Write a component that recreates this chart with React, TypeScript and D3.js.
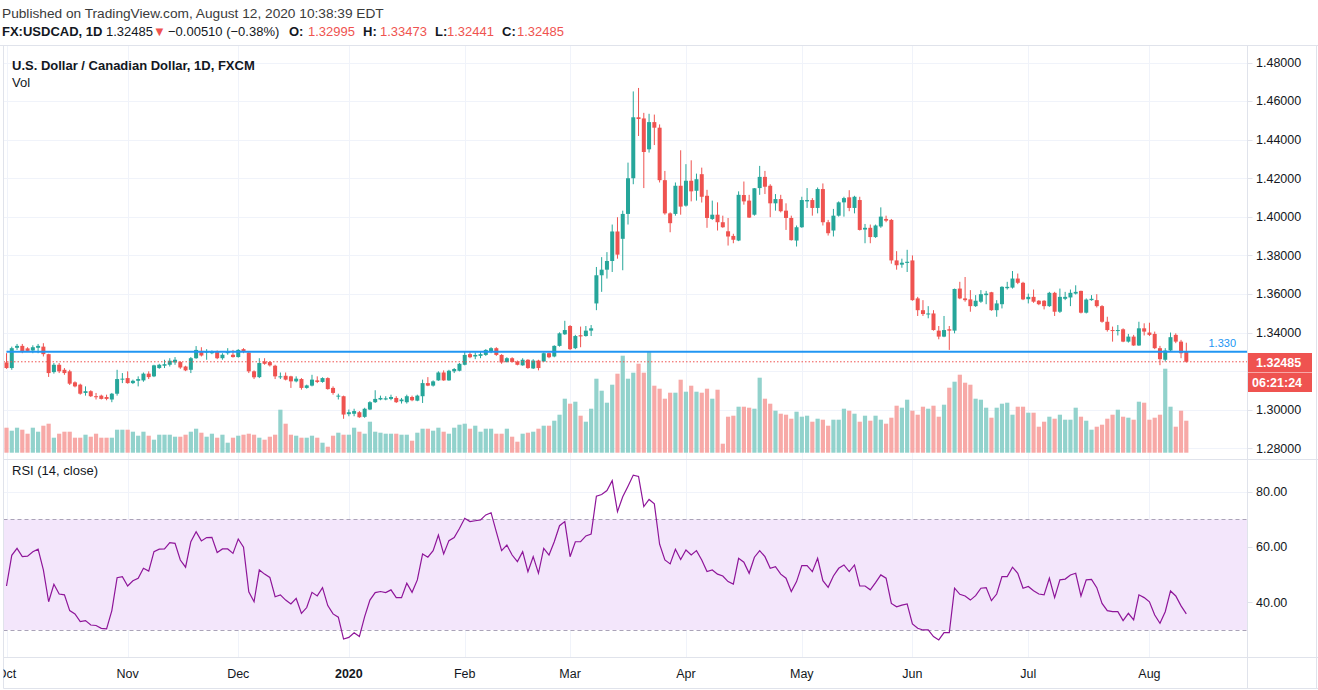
import React from 'react';
import * as d3 from 'd3';

// [open, high, low, close, volume]
type Bar = [number, number, number, number, number];

const oct2019: Bar[] = [
  [1.3245, 1.3293, 1.3212, 1.3216, 25], [1.3216, 1.3327, 1.3207, 1.3319, 22], [1.3321, 1.3341, 1.331, 1.3331, 25],
  [1.3331, 1.3341, 1.3293, 1.3302, 23], [1.3318, 1.3324, 1.33, 1.3305, 19], [1.3307, 1.3334, 1.3293, 1.3324, 25],
  [1.3321, 1.3341, 1.3293, 1.3331, 21], [1.3327, 1.3345, 1.3276, 1.3288, 27], [1.3288, 1.329, 1.317, 1.319, 29],
  [1.3195, 1.3242, 1.3187, 1.3233, 15], [1.3233, 1.3242, 1.319, 1.3199, 19], [1.3207, 1.3216, 1.3181, 1.319, 21],
  [1.3199, 1.3207, 1.3128, 1.3135, 21], [1.3142, 1.3147, 1.3116, 1.3121, 15], [1.313, 1.3135, 1.3078, 1.3083, 15],
  [1.3087, 1.3121, 1.3073, 1.3096, 18], [1.3096, 1.3101, 1.3066, 1.307, 16], [1.307, 1.3087, 1.3053, 1.3066, 19],
  [1.3073, 1.3078, 1.3053, 1.3056, 15], [1.3066, 1.3078, 1.3049, 1.3056, 15], [1.3053, 1.3087, 1.3039, 1.3083, 15],
  [1.3083, 1.3207, 1.3073, 1.3159, 23], [1.3156, 1.319, 1.3138, 1.3161, 23],
];
const nov2019: Bar[] = [
  [1.3164, 1.3199, 1.3135, 1.3138, 23], [1.3138, 1.3156, 1.3133, 1.315, 21], [1.315, 1.3173, 1.3121, 1.3159, 17],
  [1.3152, 1.3193, 1.3145, 1.3187, 21], [1.3187, 1.3199, 1.3159, 1.3169, 17], [1.3173, 1.3233, 1.3169, 1.323, 13],
  [1.3216, 1.3238, 1.3212, 1.3233, 18], [1.3228, 1.3259, 1.3216, 1.3236, 18], [1.3233, 1.3267, 1.3224, 1.3254, 18],
  [1.3245, 1.3273, 1.3233, 1.3259, 16], [1.3247, 1.3252, 1.3212, 1.3219, 16], [1.3224, 1.3228, 1.32, 1.3204, 18],
  [1.3207, 1.3273, 1.319, 1.3267, 21], [1.3267, 1.333, 1.3264, 1.331, 24], [1.3305, 1.3324, 1.3276, 1.3281, 20],
  [1.3296, 1.3314, 1.3259, 1.3302, 16], [1.3293, 1.3307, 1.3288, 1.3302, 19], [1.3302, 1.3307, 1.3262, 1.3267, 15],
  [1.3267, 1.3293, 1.3259, 1.3285, 18], [1.3293, 1.3319, 1.3285, 1.3302, 10], [1.3285, 1.331, 1.327, 1.3273, 15],
];
const dec2019: Bar[] = [
  [1.3273, 1.3314, 1.327, 1.331, 17], [1.3314, 1.3319, 1.3293, 1.3302, 18], [1.3296, 1.33, 1.319, 1.3199, 19],
  [1.3199, 1.3204, 1.3159, 1.3168, 18], [1.3169, 1.3267, 1.3164, 1.3242, 15], [1.325, 1.3267, 1.3233, 1.3238, 13],
  [1.3247, 1.3252, 1.3224, 1.323, 16], [1.3228, 1.3233, 1.3159, 1.3173, 18], [1.3169, 1.3193, 1.3159, 1.3173, 43],
  [1.3176, 1.3193, 1.3152, 1.3156, 29], [1.3173, 1.3176, 1.3113, 1.3147, 18], [1.3147, 1.3173, 1.3142, 1.3161, 17],
  [1.3159, 1.3164, 1.3104, 1.3113, 15], [1.3113, 1.313, 1.3109, 1.3126, 15], [1.3125, 1.3181, 1.3121, 1.3156, 17],
  [1.3152, 1.3173, 1.3138, 1.3144, 15], [1.3144, 1.3168, 1.314, 1.3164, 10], [1.3164, 1.3168, 1.3104, 1.3107, 6],
  [1.3113, 1.3121, 1.3078, 1.3087, 17], [1.307, 1.3083, 1.3053, 1.3073, 20], [1.307, 1.3073, 1.2953, 1.2975, 18],
];
const jan2020: Bar[] = [
  [1.2977, 1.3001, 1.2966, 1.2987, 18], [1.2979, 1.3005, 1.2966, 1.2993, 25], [1.2987, 1.2993, 1.2958, 1.2961, 21],
  [1.2963, 1.301, 1.2958, 1.3005, 19], [1.3001, 1.3044, 1.2998, 1.3039, 31], [1.3039, 1.3101, 1.3035, 1.3056, 21],
  [1.3053, 1.3073, 1.3049, 1.3061, 20], [1.3053, 1.307, 1.3049, 1.3059, 19], [1.3056, 1.3078, 1.3049, 1.3066, 19],
  [1.3061, 1.307, 1.3035, 1.3039, 19], [1.3044, 1.3061, 1.3032, 1.3053, 18], [1.3039, 1.3078, 1.3032, 1.307, 18],
  [1.3066, 1.3073, 1.3044, 1.3049, 12], [1.3047, 1.3078, 1.3044, 1.3073, 20], [1.307, 1.3156, 1.3035, 1.3138, 24],
  [1.3138, 1.3169, 1.3122, 1.3125, 24], [1.3125, 1.3152, 1.312, 1.3147, 22], [1.3152, 1.3199, 1.315, 1.3193, 25],
  [1.3193, 1.3204, 1.315, 1.3152, 21], [1.3152, 1.3207, 1.315, 1.3202, 19], [1.3199, 1.3216, 1.319, 1.3211, 25],
  [1.3202, 1.3242, 1.3199, 1.3238, 28],
];
const feb2020: Bar[] = [
  [1.3233, 1.3302, 1.323, 1.3284, 29], [1.3288, 1.3302, 1.3267, 1.3272, 24], [1.3276, 1.3297, 1.3262, 1.3284, 27],
  [1.3279, 1.3302, 1.3267, 1.3288, 21], [1.3284, 1.3314, 1.3279, 1.331, 24], [1.3302, 1.3324, 1.3293, 1.3319, 24],
  [1.3319, 1.3324, 1.3279, 1.3284, 19], [1.3284, 1.3288, 1.3238, 1.3245, 19], [1.3247, 1.3272, 1.3245, 1.3267, 24],
  [1.3267, 1.3272, 1.3245, 1.3247, 16], [1.325, 1.3255, 1.323, 1.3233, 11], [1.323, 1.3267, 1.3228, 1.3259, 19],
  [1.3259, 1.3262, 1.3212, 1.3216, 20], [1.3214, 1.3262, 1.3211, 1.3255, 21], [1.3255, 1.3259, 1.3204, 1.3216, 24],
  [1.325, 1.3297, 1.3247, 1.3293, 27], [1.3293, 1.3297, 1.3267, 1.3272, 27], [1.3276, 1.3334, 1.3272, 1.3331, 32],
  [1.3331, 1.3401, 1.3327, 1.3396, 38], [1.3391, 1.3461, 1.3388, 1.3413, 54],
];
const mar2020: Bar[] = [
  [1.3434, 1.3439, 1.331, 1.3314, 49], [1.3319, 1.3388, 1.3314, 1.3382, 51], [1.3386, 1.3431, 1.3324, 1.338, 37],
  [1.3382, 1.3434, 1.3379, 1.341, 31], [1.341, 1.3439, 1.3382, 1.3422, 44], [1.3551, 1.374, 1.3516, 1.3697, 74],
  [1.3697, 1.3791, 1.3611, 1.3726, 62], [1.3726, 1.3817, 1.368, 1.3771, 50], [1.3771, 1.396, 1.3714, 1.3924, 68],
  [1.3924, 1.3998, 1.3783, 1.3804, 79], [1.3886, 1.4032, 1.3723, 1.4015, 97], [1.4015, 1.4281, 1.396, 1.42, 74],
  [1.42, 1.465, 1.4169, 1.4516, 80], [1.4516, 1.4668, 1.4419, 1.4507, 89], [1.451, 1.4539, 1.4149, 1.4336, 80],
  [1.435, 1.4534, 1.4333, 1.4491, 101], [1.4491, 1.453, 1.4372, 1.4462, 67], [1.4462, 1.4479, 1.4178, 1.419, 64],
  [1.419, 1.4238, 1.4011, 1.4018, 54], [1.4018, 1.4023, 1.392, 1.3967, 60], [1.4015, 1.4178, 1.4006, 1.4161, 60],
  [1.4161, 1.4345, 1.4011, 1.4053, 73],
];
const apr2020: Bar[] = [
  [1.4058, 1.4273, 1.4053, 1.4187, 61], [1.4187, 1.4293, 1.408, 1.4132, 67], [1.4135, 1.4224, 1.4084, 1.4195, 61],
  [1.4221, 1.4255, 1.4074, 1.4104, 60], [1.4109, 1.414, 1.3943, 1.3994, 64], [1.3989, 1.4084, 1.3984, 1.4011, 54],
  [1.4011, 1.4075, 1.3929, 1.3972, 63], [1.3972, 1.4006, 1.3943, 1.3946, 9], [1.3925, 1.3994, 1.3851, 1.3898, 36],
  [1.3901, 1.3912, 1.3863, 1.3881, 37], [1.3877, 1.4132, 1.3874, 1.4114, 46], [1.4113, 1.4183, 1.4063, 1.408, 46],
  [1.4084, 1.4114, 1.3994, 1.3996, 45], [1.4011, 1.4149, 1.4006, 1.4148, 44], [1.4149, 1.4264, 1.4114, 1.4207, 75],
  [1.4207, 1.4238, 1.4118, 1.4156, 54], [1.4161, 1.4169, 1.3998, 1.407, 49], [1.407, 1.4118, 1.4032, 1.4092, 42],
  [1.4092, 1.4114, 1.4023, 1.4029, 39], [1.4032, 1.407, 1.3932, 1.3994, 38], [1.3994, 1.4006, 1.3877, 1.3879, 34],
  [1.3877, 1.3955, 1.3846, 1.3946, 41],
];
const may2020: Bar[] = [
  [1.3946, 1.4104, 1.3943, 1.4087, 36], [1.408, 1.4149, 1.4046, 1.4087, 37], [1.4087, 1.4097, 1.4006, 1.4046, 31],
  [1.4046, 1.4152, 1.4018, 1.4144, 34], [1.4144, 1.4173, 1.3955, 1.3972, 33], [1.3972, 1.3984, 1.3903, 1.3915, 27],
  [1.3929, 1.4041, 1.3898, 1.4006, 33], [1.4006, 1.408, 1.4001, 1.4075, 33], [1.4075, 1.4104, 1.4001, 1.4097, 44],
  [1.4101, 1.4138, 1.4029, 1.4046, 42], [1.4046, 1.4109, 1.4018, 1.4104, 39], [1.4087, 1.4104, 1.3929, 1.3932, 31],
  [1.3934, 1.3963, 1.3863, 1.3943, 37], [1.3943, 1.396, 1.3863, 1.3895, 32], [1.3895, 1.396, 1.3891, 1.3955, 37],
  [1.395, 1.4049, 1.3943, 1.4001, 33], [1.3989, 1.4006, 1.3972, 1.398, 29], [1.3984, 1.3989, 1.3757, 1.3774, 35],
  [1.3774, 1.3822, 1.3726, 1.3749, 47], [1.3752, 1.3783, 1.3736, 1.3762, 45], [1.3761, 1.3829, 1.3714, 1.3767, 53],
];
const jun2020: Bar[] = [
  [1.3774, 1.38, 1.3565, 1.3568, 42], [1.3577, 1.3585, 1.3486, 1.3516, 38], [1.3516, 1.3568, 1.3486, 1.3496, 46],
  [1.3494, 1.3537, 1.3474, 1.3499, 44], [1.3499, 1.3516, 1.341, 1.3413, 47], [1.341, 1.3434, 1.3365, 1.3379, 36],
  [1.3379, 1.3486, 1.3376, 1.3413, 48], [1.3417, 1.3434, 1.331, 1.341, 65], [1.341, 1.3628, 1.3396, 1.3626, 71],
  [1.3628, 1.3663, 1.3573, 1.3577, 78], [1.3577, 1.3688, 1.356, 1.3568, 70], [1.3572, 1.362, 1.3508, 1.3537, 68],
  [1.3537, 1.3594, 1.3533, 1.3565, 54], [1.356, 1.362, 1.3554, 1.3599, 53], [1.3594, 1.3616, 1.3547, 1.3602, 45],
  [1.3609, 1.3611, 1.3513, 1.3516, 35], [1.3516, 1.3568, 1.3482, 1.3551, 45], [1.3547, 1.364, 1.3525, 1.3637, 49],
  [1.363, 1.3663, 1.3623, 1.3637, 50], [1.3633, 1.3719, 1.3628, 1.368, 38], [1.368, 1.3706, 1.3651, 1.3658, 46],
  [1.3658, 1.3663, 1.3568, 1.3572, 46],
];
const jul2020: Bar[] = [
  [1.3573, 1.3602, 1.3551, 1.3585, 40], [1.3585, 1.3623, 1.3554, 1.356, 40], [1.3565, 1.3568, 1.3542, 1.3547, 26],
  [1.3565, 1.3568, 1.352, 1.3537, 31], [1.3537, 1.3611, 1.3533, 1.3606, 36], [1.3606, 1.3611, 1.3486, 1.3508, 34],
  [1.3508, 1.3628, 1.3502, 1.3585, 38], [1.3575, 1.3611, 1.3568, 1.3585, 33], [1.3582, 1.3623, 1.3537, 1.3606, 33],
  [1.3602, 1.3645, 1.3597, 1.3611, 45], [1.3616, 1.3617, 1.3499, 1.3503, 36], [1.3503, 1.3577, 1.3499, 1.3571, 32],
  [1.3568, 1.3594, 1.3565, 1.3575, 23], [1.3568, 1.3599, 1.353, 1.3537, 26], [1.3537, 1.3542, 1.3451, 1.3456, 28],
  [1.3456, 1.3482, 1.3405, 1.3413, 34], [1.3413, 1.3431, 1.3353, 1.3408, 38], [1.3408, 1.3439, 1.3385, 1.3413, 43],
  [1.3417, 1.3422, 1.335, 1.3353, 36], [1.3353, 1.3393, 1.3348, 1.3379, 35], [1.3379, 1.3388, 1.3331, 1.3333, 33],
  [1.3333, 1.3456, 1.3331, 1.3422, 51], [1.3422, 1.3448, 1.3385, 1.3405, 50],
];
const aug2020: Bar[] = [
  [1.34, 1.3451, 1.3382, 1.3388, 33], [1.3393, 1.3405, 1.3314, 1.3319, 35], [1.3319, 1.3331, 1.3231, 1.3262, 38],
  [1.3259, 1.3319, 1.325, 1.3307, 84], [1.3307, 1.34, 1.3302, 1.3376, 46], [1.3388, 1.3396, 1.3345, 1.3353, 26],
  [1.3353, 1.3362, 1.3267, 1.3293, 42], [1.32995, 1.33473, 1.32441, 1.32485, 32],
];

const rsiOct2019 = [45.9, 57.0, 59.5, 56.5, 56.7, 58.3, 59.2, 51.7, 40.2, 46.5, 43.0, 42.7, 37.0, 35.8, 33.0, 33.4, 31.8, 31.6, 30.6, 30.4, 37.0, 48.9, 49.3];
const rsiNov2019 = [45.9, 47.8, 48.7, 52.3, 51.3, 58.3, 59.2, 59.3, 61.6, 61.3, 55.3, 52.7, 61.9, 65.5, 62.2, 63.4, 63.5, 58.0, 59.3, 59.3, 57.7];
const rsiDec2019 = [62.9, 59.9, 43.8, 40.2, 51.7, 50.2, 49.0, 42.0, 42.7, 40.8, 39.4, 41.4, 36.0, 38.1, 43.6, 42.3, 45.3, 38.8, 35.8, 34.6, 26.7];
const rsiJan2020 = [27.3, 29.0, 27.6, 34.8, 40.8, 43.5, 43.9, 43.5, 44.5, 41.7, 41.7, 46.9, 43.6, 48.1, 57.5, 56.3, 58.7, 64.3, 57.5, 62.3, 63.4, 66.7];
const rsiFeb2020 = [70.4, 69.2, 69.5, 69.8, 71.6, 72.4, 65.5, 58.7, 60.7, 57.1, 54.7, 58.3, 51.1, 56.5, 50.5, 59.5, 57.1, 61.9, 67.7, 69.2];
const rsiMar2020 = [56.5, 61.9, 61.9, 64.0, 64.7, 78.4, 79.0, 80.4, 84.0, 72.8, 78.2, 82.0, 86.0, 85.5, 74.6, 77.2, 75.6, 61.0, 55.3, 53.9, 59.2, 55.5];
const rsiApr2020 = [58.9, 57.1, 58.7, 55.3, 51.1, 51.7, 50.2, 49.5, 47.5, 46.6, 55.9, 54.5, 50.5, 56.3, 58.7, 56.5, 52.3, 52.9, 50.2, 48.7, 43.9, 47.5];
const rsiMay2020 = [53.3, 53.3, 51.1, 55.9, 47.8, 45.4, 49.5, 52.3, 53.5, 51.1, 53.5, 45.9, 45.9, 44.5, 47.1, 49.9, 48.7, 39.6, 38.4, 39.0, 39.4];
const rsiJun2020 = [32.2, 30.6, 30.0, 30.0, 27.6, 26.4, 29.0, 29.0, 45.1, 42.9, 42.3, 40.8, 42.4, 45.1, 45.3, 40.6, 43.0, 49.3, 49.3, 52.7, 50.5, 45.1];
const rsiJul2020 = [45.7, 44.2, 43.0, 42.7, 48.7, 41.7, 48.1, 48.4, 49.9, 50.5, 42.3, 48.1, 48.3, 45.3, 39.6, 37.0, 36.6, 36.6, 33.4, 36.0, 33.6, 42.7, 41.7];
const rsiAug2020 = [40.2, 35.4, 32.4, 36.6, 44.1, 42.3, 38.7, 35.8];

const monthLabels = ['Oct', 'Nov', 'Dec', '2020', 'Feb', 'Mar', 'Apr', 'May', 'Jun', 'Jul', 'Aug'];
const priceTicks = [1.28, 1.3, 1.32, 1.34, 1.36, 1.38, 1.4, 1.42, 1.44, 1.46, 1.48];
const rsiTicks = [40, 60, 80];
const rsiBand = [30, 70];
const firstDay = '2019-10-01';
const lastDay = '2020-08-12';
const closedDays = ['2019-12-25', '2020-01-01'];
const levelLine = 1.33;
const levelLabel = '1.330';
const lastClose = 1.32485;
const countdown = '06:21:24';

const UP = '#26a69a';
const DOWN = '#ef5350';
const UP_VOL = '#92d2cc';
const DOWN_VOL = '#f7a9a7';
const GRID = '#f0f3fa';
const BORDER = '#e0e3eb';
const TEXT = '#131722';
const FONT = "'Liberation Sans', Arial, sans-serif";

function tradingDays(): Date[] {
  const out: Date[] = [];
  const d = new Date(firstDay + 'T00:00:00Z');
  const end = new Date(lastDay + 'T00:00:00Z');
  while (d <= end) {
    const wd = d.getUTCDay();
    const iso = d.toISOString().slice(0, 10);
    if (wd !== 0 && wd !== 6 && !closedDays.includes(iso)) out.push(new Date(d.getTime()));
    d.setUTCDate(d.getUTCDate() + 1);
  }
  return out;
}

export default function App() {
  const bars: Bar[] = [
    ...oct2019, ...nov2019, ...dec2019, ...jan2020, ...feb2020, ...mar2020,
    ...apr2020, ...may2020, ...jun2020, ...jul2020, ...aug2020,
  ];
  const rsi: number[] = [
    ...rsiOct2019, ...rsiNov2019, ...rsiDec2019, ...rsiJan2020, ...rsiFeb2020, ...rsiMar2020,
    ...rsiApr2020, ...rsiMay2020, ...rsiJun2020, ...rsiJul2020, ...rsiAug2020,
  ];
  const days = tradingDays();
  const n = bars.length;

  const W = 1318;
  const H = 690;
  const left = 3.5;
  const axisX = 1247.5;
  const paneTop = 45.5;
  const sepY = 459.5;
  const rsiBottom = 657.5;
  const bottom = 688.5;

  const x = d3.scaleLinear().domain([0, n - 1]).range([6.5, 6.5 + (n - 1) * 5.267]);
  const y = d3.scaleLinear().domain([1.28, 1.48]).range([448.3, 62.5]);
  const vMax = d3.max(bars, (b) => b[4]) as number;
  const yv = d3.scaleLinear().domain([0, vMax]).range([452.7, 351.7]);
  const yr = d3.scaleLinear().domain([20, 80]).range([657.6, 491.7]);

  const monthStarts: number[] = [];
  days.forEach((d, i) => {
    if (i === 0 || d.getUTCMonth() !== days[i - 1].getUTCMonth()) monthStarts.push(i);
  });

  const rsiPath = d3
    .line<number>()
    .x((_, i) => x(i))
    .y((v) => yr(v))(rsi) as string;

  const fmtPrice = d3.format('.5f');
  const fmtRsi = d3.format('.2f');

  // price label boxes on the axis (last price + countdown)
  const boxTop = 353;
  const boxBottom = 392;
  const visiblePriceTicks = priceTicks.filter((p) => {
    const yy = y(p);
    return yy < boxTop - 7 || yy > boxBottom + 7;
  });

  const header2: { t: string; x: number; bold?: boolean; color?: string }[] = [
    { t: 'FX:USDCAD, 1D', x: 2, bold: true },
    { t: '1.32485', x: 106 },
    { t: '▼', x: 153, color: DOWN },
    { t: '−0.00510 (−0.38%)', x: 168 },
    { t: 'O:', x: 289, bold: true },
    { t: '1.32995', x: 308, color: DOWN },
    { t: 'H:', x: 363, bold: true },
    { t: '1.33473', x: 380, color: DOWN },
    { t: 'L:', x: 435, bold: true },
    { t: '1.32441', x: 447, color: DOWN },
    { t: 'C:', x: 502, bold: true },
    { t: '1.32485', x: 517, color: DOWN },
  ];

  return (
    <div style={{ position: 'absolute', left: 0, top: 0, width: W, height: H, background: '#fff' }}>
      <svg width={W} height={H} style={{ display: 'block', fontFamily: FONT }}>
        <defs>
          <clipPath id="plotClip">
            <rect x={left} y={paneTop} width={axisX - left} height={bottom - paneTop} />
          </clipPath>
        </defs>
        <rect x={0} y={0} width={W} height={H} fill="#fff" />

        {/* header */}
        <text x={2} y={18} fontSize={13.7} fill="#3a3a3a">
          Published on TradingView.com, August 12, 2020 10:38:39 EDT
        </text>
        {header2.map((h, i) => (
          <text key={i} x={h.x} y={36} fontSize={13} fontWeight={h.bold ? 700 : 400} fill={h.color || TEXT}>
            {h.t}
          </text>
        ))}

        {/* grid */}
        {priceTicks.map((p) => (
          <line key={p} x1={left} x2={axisX} y1={Math.round(y(p)) + 0.5} y2={Math.round(y(p)) + 0.5} stroke={GRID} />
        ))}
        {rsiTicks.map((r) => (
          <line key={r} x1={left} x2={axisX} y1={Math.round(yr(r)) + 0.5} y2={Math.round(yr(r)) + 0.5} stroke={GRID} />
        ))}
        {monthStarts.map((i) => (
          <line key={i} x1={Math.round(x(i)) + 0.5} x2={Math.round(x(i)) + 0.5} y1={paneTop} y2={rsiBottom} stroke={GRID} />
        ))}

        {/* volume */}
        <g clipPath="url(#plotClip)">
          {bars.map((b, i) => (
            <rect
              key={i}
              x={x(i) - 2.1}
              y={yv(b[4])}
              width={4.2}
              height={yv(0) - yv(b[4])}
              fill={b[3] >= b[0] ? UP_VOL : DOWN_VOL}
            />
          ))}
        </g>

        {/* candles */}
        <g clipPath="url(#plotClip)">
          {bars.map((b, i) => {
            const [o, h, l, c] = b;
            const col = c >= o ? UP : DOWN;
            const top = y(Math.max(o, c));
            const bh = Math.max(1, y(Math.min(o, c)) - top);
            return (
              <g key={i}>
                <line x1={x(i)} x2={x(i)} y1={y(h)} y2={y(l)} stroke={col} strokeWidth={1} />
                <rect x={x(i) - 2} y={top} width={4} height={bh} fill={col} />
              </g>
            );
          })}
        </g>

        {/* last price dotted line */}
        <line
          x1={left}
          x2={axisX}
          y1={y(lastClose)}
          y2={y(lastClose)}
          stroke={DOWN}
          strokeWidth={1}
          strokeDasharray="1.5,2"
        />
        {/* horizontal level */}
        <line x1={x(0)} x2={axisX} y1={y(levelLine)} y2={y(levelLine)} stroke="#2196f3" strokeWidth={2} />
        <text x={1236} y={y(levelLine) - 5} fontSize={11} fill="#2196f3" textAnchor="end">
          {levelLabel}
        </text>

        {/* pane titles */}
        <text x={12} y={70} fontSize={13} fontWeight={700} fill={TEXT}>
          U.S. Dollar / Canadian Dollar, 1D, FXCM
        </text>
        <text x={12} y={87} fontSize={13} fill={TEXT}>
          Vol
        </text>

        {/* RSI pane */}
        <rect x={left} y={yr(rsiBand[1])} width={axisX - left} height={yr(rsiBand[0]) - yr(rsiBand[1])} fill="#f3e6fb" />
        {rsiBand.map((r) => (
          <line
            key={r}
            x1={left}
            x2={axisX}
            y1={Math.round(yr(r)) + 0.5}
            y2={Math.round(yr(r)) + 0.5}
            stroke="#aaa3b8"
            strokeDasharray="4,3"
          />
        ))}
        <path d={rsiPath} fill="none" stroke="#8e1599" strokeWidth={1.2} />
        <text x={12} y={475} fontSize={13} fill={TEXT}>
          RSI (14, close)
        </text>

        {/* borders */}
        <line x1={0} x2={W} y1={paneTop} y2={paneTop} stroke={BORDER} />
        <line x1={left} x2={left} y1={paneTop} y2={bottom} stroke={BORDER} />
        <line x1={axisX} x2={axisX} y1={paneTop} y2={bottom} stroke={BORDER} />
        <line x1={left} x2={W} y1={sepY} y2={sepY} stroke={BORDER} />
        <line x1={left} x2={W} y1={rsiBottom} y2={rsiBottom} stroke={BORDER} />
        <line x1={left} x2={W} y1={bottom} y2={bottom} stroke={BORDER} />
        <line x1={1316.5} x2={1316.5} y1={paneTop} y2={bottom} stroke={BORDER} />

        {/* price axis */}
        {priceTicks.map((p) => (
          <line key={p} x1={axisX} x2={axisX + 5} y1={Math.round(y(p)) + 0.5} y2={Math.round(y(p)) + 0.5} stroke={BORDER} />
        ))}
        {visiblePriceTicks.map((p) => (
          <text key={p} x={1256} y={y(p)} dy="0.35em" fontSize={12.5} fill={TEXT}>
            {fmtPrice(p)}
          </text>
        ))}
        {rsiTicks.map((r) => (
          <g key={r}>
            <line x1={axisX} x2={axisX + 5} y1={Math.round(yr(r)) + 0.5} y2={Math.round(yr(r)) + 0.5} stroke={BORDER} />
            <text x={1256} y={yr(r)} dy="0.35em" fontSize={12.5} fill={TEXT}>
              {fmtRsi(r)}
            </text>
          </g>
        ))}

        {/* last price labels */}
        <rect x={1248} y={boxTop} width={64} height={19.5} fill={DOWN} />
        <text x={1256} y={362.8} dy="0.35em" fontSize={12.5} fontWeight={700} fill="#fff">
          {fmtPrice(lastClose)}
        </text>
        <rect x={1248} y={373} width={64} height={boxBottom - 373} fill={DOWN} />
        <text x={1252} y={382.5} dy="0.35em" fontSize={12.5} fontWeight={700} fill="#fff">
          {countdown}
        </text>

        {/* time axis */}
        <g clipPath="url(#plotClip)">
          {monthStarts.map((i, k) => (
            <text
              key={i}
              x={x(i)}
              y={678}
              fontSize={12.5}
              textAnchor="middle"
              fontWeight={monthLabels[k] === '2020' ? 700 : 400}
              fill={TEXT}
            >
              {monthLabels[k]}
            </text>
          ))}
        </g>
      </svg>
    </div>
  );
}
